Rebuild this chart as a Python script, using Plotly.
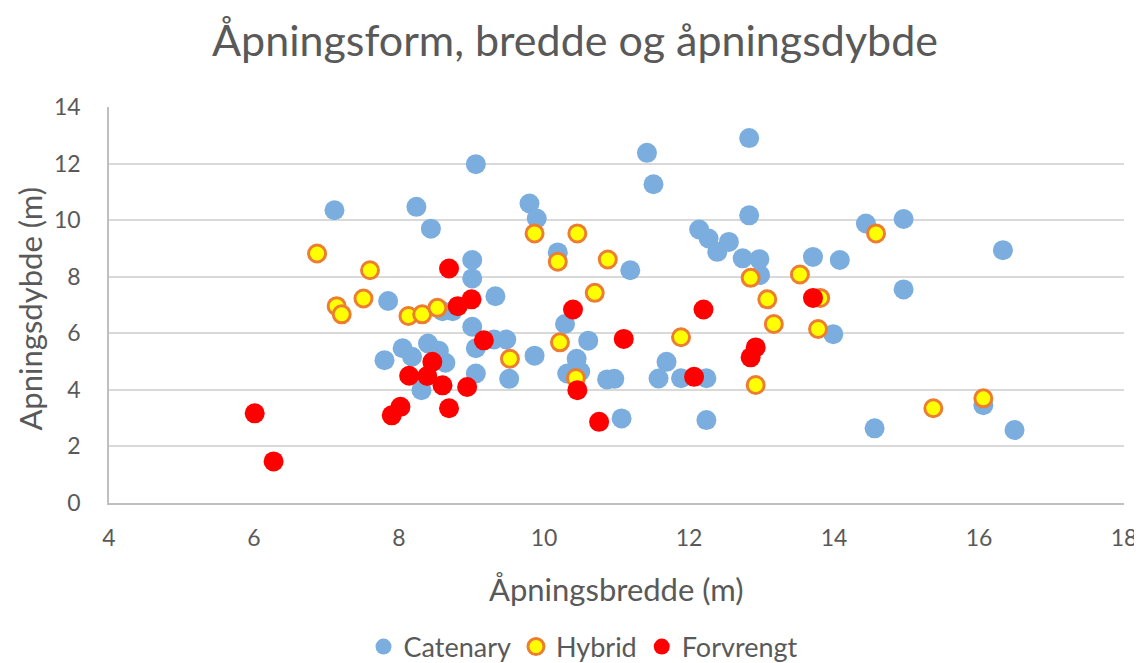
import plotly.graph_objects as go

# Catenary
cat_x = [7.11, 8.24, 8.44, 9.06, 11.42, 11.51, 9.80, 9.90, 12.83, 12.83, 12.14, 12.27, 12.55, 12.39,
         12.74, 12.97, 12.98, 13.71, 14.08, 14.44, 14.96, 16.33, 14.96, 13.99, 16.06, 14.56, 16.49,
         12.24, 11.07, 10.19, 11.19, 9.01, 9.01, 9.33, 7.85, 8.60, 8.74, 9.01, 9.06, 10.29, 9.31,
         9.48, 9.87, 10.61, 10.45, 10.50, 10.32, 9.06, 9.52, 10.87, 10.97, 11.69, 11.58, 11.89,
         12.24, 7.80, 8.05, 8.18, 8.40, 8.55, 8.64, 8.31]
cat_y = [10.35, 10.47, 9.70, 11.98, 12.38, 11.27, 10.59, 10.06, 12.90, 10.17, 9.67, 9.35, 9.23, 8.88,
         8.65, 8.62, 8.06, 8.70, 8.59, 9.88, 10.04, 8.94, 7.55, 5.97, 3.46, 2.64, 2.58,
         2.93, 2.99, 8.86, 8.23, 8.59, 7.94, 7.31, 7.14, 6.78, 6.78, 6.23, 5.47, 6.33, 5.78,
         5.78, 5.21, 5.74, 5.10, 4.65, 4.58, 4.58, 4.39, 4.37, 4.39, 4.99, 4.40, 4.41,
         4.41, 5.05, 5.47, 5.17, 5.64, 5.38, 4.96, 3.99]

# Hybrid
hyb_x = [6.87, 7.60, 7.14, 7.21, 7.51, 8.13, 8.32, 8.53, 9.87, 10.46, 10.19, 10.88, 10.70, 9.53,
         10.22, 11.89, 10.44, 12.85, 13.53, 14.58, 13.08, 13.81, 13.17, 13.78, 12.92, 15.37, 16.06]
hyb_y = [8.82, 8.23, 6.96, 6.67, 7.23, 6.61, 6.67, 6.90, 9.53, 9.53, 8.53, 8.61, 7.43, 5.10,
         5.68, 5.86, 4.42, 7.96, 8.08, 9.53, 7.20, 7.25, 6.33, 6.15, 4.17, 3.35, 3.70]

# Forvrengt
for_x = [6.01, 6.27, 7.90, 8.02, 8.69, 8.14, 8.39, 8.60, 8.94, 8.46, 8.69, 8.81, 9.00, 9.17,
         10.40, 10.46, 10.76, 11.10, 12.20, 12.07, 12.92, 12.85, 13.71]
for_y = [3.17, 1.47, 3.10, 3.40, 3.35, 4.50, 4.49, 4.16, 4.10, 4.99, 8.29, 6.96, 7.20, 5.75,
         6.84, 3.99, 2.87, 5.80, 6.84, 4.46, 5.50, 5.15, 7.25]

x_ticks = [4, 6, 8, 10, 12, 14, 16, 18]
y_ticks = [0, 2, 4, 6, 8, 10, 12, 14]

FONT = "Lato"
GREY = "#595959"
W, H = 1134, 655  # page body has an 8px margin

fig = go.Figure()
fig.add_trace(go.Scatter(x=cat_x, y=cat_y, mode="markers", name="Catenary",
                         marker=dict(size=20, color="#7BAEDE", line=dict(width=0))))
fig.add_trace(go.Scatter(x=hyb_x, y=hyb_y, mode="markers", name="Hybrid",
                         marker=dict(size=17, color="#FFFF00", line=dict(width=3, color="#ED7D31"))))
fig.add_trace(go.Scatter(x=for_x, y=for_y, mode="markers", name="Forvrengt",
                         marker=dict(size=20, color="#FF0000", line=dict(width=0))))

fig.update_layout(
    width=W, height=H, autosize=False,
    margin=dict(l=101, r=18, t=99, b=160),
    paper_bgcolor="white", plot_bgcolor="white",
    font=dict(family=FONT, color=GREY),
    title=dict(text="Åpningsform, bredde og åpningsdybde", x=0.5, xanchor="center",
               yref="container", y=1 - 33 / H, yanchor="middle",
               font=dict(size=43, color=GREY, family=FONT)),
    showlegend=True,
    legend=dict(orientation="h", x=0.4675, xanchor="center", yref="container", y=1 - 639 / H,
                yanchor="middle", font=dict(size=27, color=GREY, family=FONT),
                itemsizing="trace", traceorder="normal", itemwidth=30),
    xaxis=dict(range=[4, 18], tickvals=x_ticks, showgrid=False, zeroline=False, automargin=False,
               showline=True, linecolor="#bfbfbf", linewidth=1.5,
               tickfont=dict(size=23, color=GREY), ticks="", ticklabelstandoff=14),
    yaxis=dict(range=[0, 14], tickvals=y_ticks, showgrid=True, gridcolor="#d9d9d9", gridwidth=1.5,
               zeroline=False, showline=True, linecolor="#bfbfbf", linewidth=1.5, automargin=False,
               tickfont=dict(size=23, color=GREY), ticks="", ticklabelstandoff=22),
    annotations=[
        dict(text="Åpningsbredde (m)", xref="paper", yref="paper", x=0.5, y=(495 - 581) / 396,
             xanchor="center", yanchor="middle", showarrow=False,
             font=dict(size=31, color=GREY, family=FONT)),
        dict(text="Apningsdybde (m)", xref="paper", yref="paper", x=(22 - 101) / 1015, y=0.491,
             xanchor="center", yanchor="middle", showarrow=False, textangle=-90,
             font=dict(size=31, color=GREY, family=FONT)),
    ],
)

fig.write_html("out.html")
